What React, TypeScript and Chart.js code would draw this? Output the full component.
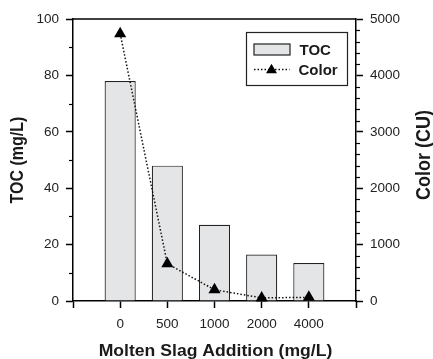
import React, { useEffect, useRef } from 'react';
import { Chart, registerables } from 'chart.js';

Chart.register(...registerables);

// ---- data ----
const categories = ['0', '500', '1000', '2000', '4000'];
const tocValues = [78, 48, 27, 16.5, 13.5];
const colorValues = [4740, 660, 200, 55, 65];

const leftMax = 100;
const leftMajor = 20;
const leftMinor = 10;
const rightMax = 5000;
const rightMajor = 1000;
const rightMinor = 200;

const xTitle = 'Molten Slag Addition (mg/L)';
const leftTitle = 'TOC (mg/L)';
const rightTitle = 'Color (CU)';
const legendLabels = ['TOC', 'Color'];

const FONT = '"Liberation Sans", Arial, Helvetica, sans-serif';
const BAR_FILL = '#e4e5e7';
const INK = '#1a1a1a';

const padded = (arr: any[], fill: any) => [fill, ...arr, fill];

const decorPlugin = {
  id: 'decor',
  afterDraw(chart: any) {
    const ctx = chart.ctx;
    const { left, right, top, bottom } = chart.chartArea;
    const yl = chart.scales.y;
    const yr = chart.scales.y1;
    ctx.save();
    ctx.strokeStyle = '#000';
    ctx.lineWidth = 1.5;
    // top frame line
    ctx.beginPath();
    ctx.moveTo(left, top);
    ctx.lineTo(right, top);
    ctx.stroke();
    // minor ticks
    ctx.lineWidth = 1.2;
    for (let v = 0; v <= leftMax; v += leftMinor) {
      if (v % leftMajor === 0) continue;
      const p = Math.round(yl.getPixelForValue(v)) + 0.5;
      ctx.beginPath();
      ctx.moveTo(left - 4, p);
      ctx.lineTo(left, p);
      ctx.stroke();
    }
    for (let v = 0; v <= rightMax; v += rightMinor) {
      if (v % rightMajor === 0) continue;
      const p = Math.round(yr.getPixelForValue(v)) + 0.5;
      ctx.beginPath();
      ctx.moveTo(right, p);
      ctx.lineTo(right + 4, p);
      ctx.stroke();
    }

    // axis titles
    ctx.fillStyle = INK;
    ctx.textBaseline = 'alphabetic';
    ctx.textAlign = 'center';
    // bottom
    ctx.save();
    ctx.font = `bold 16px ${FONT}`;
    ctx.translate((left + right) / 2 + 1, bottom + 55);
    ctx.scale(1.1, 1);
    ctx.fillText(xTitle, 0, 0);
    ctx.restore();
    // left
    ctx.save();
    ctx.font = `bold 16px ${FONT}`;
    ctx.translate(23.3, (top + bottom) / 2);
    ctx.scale(1.15, 1);
    ctx.rotate(-Math.PI / 2);
    ctx.fillText(leftTitle, 0, 0);
    ctx.restore();
    // right
    ctx.save();
    ctx.font = `bold 18px ${FONT}`;
    ctx.translate(right + 74, (top + bottom) / 2 - 5);
    ctx.scale(1.12, 1);
    ctx.rotate(-Math.PI / 2);
    ctx.fillText(rightTitle, 0, 0);
    ctx.restore();

    // legend
    const bw = 101;
    const bh = 53;
    const bx = Math.round(right - 9 - bw) + 0.5;
    const by = Math.round(top + 13) + 0.5;
    ctx.fillStyle = '#fff';
    ctx.fillRect(bx, by, bw, bh);
    ctx.strokeStyle = '#222';
    ctx.lineWidth = 1.2;
    ctx.strokeRect(bx, by, bw, bh);
    // TOC swatch
    ctx.fillStyle = BAR_FILL;
    ctx.fillRect(bx + 7.5, by + 11.5, 36, 11);
    ctx.strokeStyle = '#222';
    ctx.lineWidth = 1.2;
    ctx.strokeRect(bx + 7.5, by + 11.5, 36, 11);
    // Color swatch: dotted line + triangle
    const ly = by + 37;
    ctx.save();
    ctx.setLineDash([1.5, 2]);
    ctx.lineWidth = 1.5;
    ctx.strokeStyle = '#111';
    ctx.beginPath();
    ctx.moveTo(bx + 7.5, ly);
    ctx.lineTo(bx + 43, ly);
    ctx.stroke();
    ctx.restore();
    const tx = bx + 25;
    const ty = ly + 0.5;
    const r = 6.3;
    ctx.fillStyle = '#000';
    ctx.beginPath();
    ctx.moveTo(tx, ty - r);
    ctx.lineTo(tx + r * 0.866, ty + r * 0.5);
    ctx.lineTo(tx - r * 0.866, ty + r * 0.5);
    ctx.closePath();
    ctx.fill();
    // legend texts
    ctx.fillStyle = INK;
    ctx.textAlign = 'left';
    ctx.font = `bold 15px ${FONT}`;
    ctx.fillText(legendLabels[0], bx + 53, by + 22.5);
    ctx.fillText(legendLabels[1], bx + 52, by + 42.5);

    ctx.restore();
  },
};

export default function App() {
  const ref = useRef<HTMLCanvasElement | null>(null);

  useEffect(() => {
    document.body.style.margin = '0';
    const canvas = ref.current;
    if (!canvas) return;
    const tickFont = { family: FONT, size: 13.5 };
    const plainNum = (v: any) => String(v);
    const chart = new Chart(canvas, {
      type: 'bar',
      data: {
        labels: padded(categories, ''),
        datasets: [
          {
            type: 'line',
            label: legendLabels[1],
            data: padded(colorValues, null),
            yAxisID: 'y1',
            borderColor: '#111',
            borderWidth: 1.5,
            borderDash: [1.5, 2],
            tension: 0,
            pointStyle: 'triangle',
            pointRadius: 7,
            pointBackgroundColor: '#000',
            pointBorderColor: '#000',
            pointBorderWidth: 0,
            clip: false,
            order: 0,
          } as any,
          {
            type: 'bar',
            label: legendLabels[0],
            data: padded(tocValues, null),
            yAxisID: 'y',
            backgroundColor: BAR_FILL,
            borderColor: '#222',
            borderWidth: 1.2,
            barPercentage: 0.66,
            categoryPercentage: 1,
            order: 1,
          } as any,
        ],
      },
      options: {
        animation: false,
        responsive: false,
        maintainAspectRatio: false,
        layout: { padding: { top: 19, left: 0, right: 0, bottom: 0 } },
        plugins: {
          legend: { display: false },
          tooltip: { enabled: false },
        },
        scales: {
          x: {
            type: 'category',
            offset: false,
            grid: {
              offset: false,
              drawOnChartArea: false,
              drawTicks: true,
              tickLength: 7,
              tickWidth: 1.5,
              tickColor: '#000',
            },
            border: { display: true, color: '#000', width: 1.5 },
            ticks: { padding: 8, color: '#222', font: tickFont, maxRotation: 0, autoSkip: false },
            afterFit: (s: any) => {
              s.height = 58;
            },
          },
          y: {
            position: 'left',
            min: 0,
            max: leftMax,
            ticks: { stepSize: leftMajor, padding: 7, color: '#222', font: tickFont, callback: plainNum },
            grid: { drawOnChartArea: false, drawTicks: true, tickLength: 7, tickWidth: 1.5, tickColor: '#000' },
            border: { display: true, color: '#000', width: 1.5 },
            afterFit: (s: any) => {
              s.width = 73;
            },
          },
          y1: {
            position: 'right',
            min: 0,
            max: rightMax,
            ticks: { stepSize: rightMajor, padding: 7, color: '#222', font: tickFont, callback: plainNum },
            grid: { drawOnChartArea: false, drawTicks: true, tickLength: 7, tickWidth: 1.5, tickColor: '#000' },
            border: { display: true, color: '#000', width: 1.5 },
            afterFit: (s: any) => {
              s.width = 77;
            },
          },
        },
      } as any,
      plugins: [decorPlugin],
    });
    return () => chart.destroy();
  }, []);

  return (
    <div style={{ width: 433, height: 359, background: '#fff' }}>
      <canvas ref={ref} width={433} height={359} style={{ display: 'block' }} />
    </div>
  );
}
